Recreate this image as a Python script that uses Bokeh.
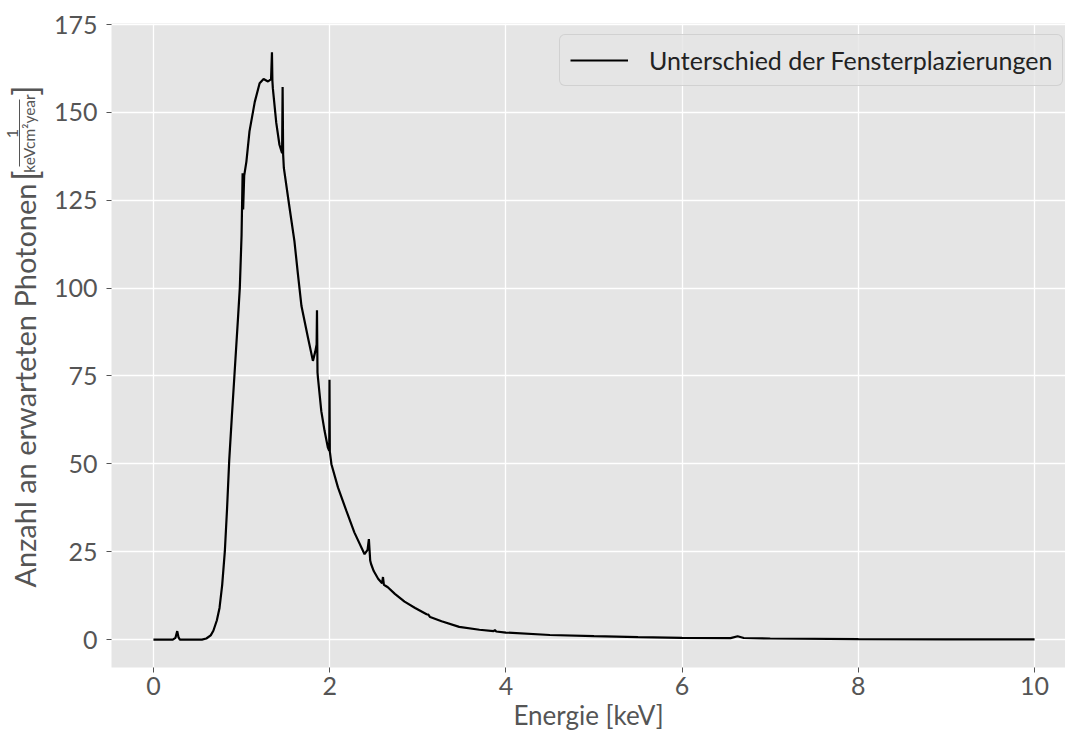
import math
from bokeh.plotting import figure
from bokeh.layouts import row
from bokeh.models import Range1d, Legend, LegendItem, ColumnDataSource
from bokeh.core.properties import value
from bokeh.embed import file_html
from bokeh.resources import INLINE

# ---------------- data ----------------
energy = [0.00, 0.22, 0.25, 0.27, 0.285, 0.30, 0.55, 0.60, 0.65, 0.68, 0.72, 0.75, 0.78, 0.81,
          0.835, 0.86, 0.89, 0.92, 0.96, 0.98, 1.00, 1.012, 1.018, 1.03, 1.055, 1.09, 1.15,
          1.205, 1.25, 1.30, 1.335, 1.345, 1.35, 1.355, 1.394, 1.43, 1.46, 1.466, 1.472, 1.48,
          1.545, 1.60, 1.64, 1.68, 1.754, 1.81, 1.837, 1.852, 1.856, 1.862, 1.867, 1.905,
          1.942, 1.98, 1.995, 1.998, 2.002, 2.02, 2.094, 2.19, 2.28, 2.396, 2.43, 2.445, 2.46,
          2.47, 2.50, 2.55, 2.595, 2.605, 2.615, 2.66, 2.74, 2.85, 2.97, 3.10, 3.12, 3.14,
          3.27, 3.47, 3.70, 3.86, 3.875, 3.89, 4.00, 4.50, 5.00, 5.50, 6.00, 6.55, 6.63,
          6.70, 7.00, 8.00, 9.00, 10.00]
photons = [0.0, 0.0, 0.5, 2.4, 0.6, 0.0, 0.0, 0.3, 1.2, 2.5, 5.5, 9.0, 15.5, 25.0,
           37.0, 51.0, 63.5, 75.5, 91.6, 100.0, 115.0, 132.7, 122.4, 132.0, 136.0, 144.6, 153.0,
           158.3, 159.5, 158.8, 159.5, 167.1, 159.0, 156.9, 147.0, 140.8, 138.4, 157.2, 138.0, 134.2,
           122.8, 113.4, 103.9, 94.9, 85.9, 79.3, 82.0, 84.0, 93.7, 76.0, 74.5, 65.0,
           59.4, 54.6, 53.7, 73.9, 53.5, 49.9, 43.3, 36.6, 30.5, 24.3, 25.5, 28.6, 22.5,
           21.5, 19.5, 17.3, 16.0, 17.8, 15.6, 14.9, 13.0, 10.8, 9.0, 7.2, 7.1, 6.4,
           5.2, 3.6, 2.8, 2.4, 2.7, 2.3, 2.0, 1.3, 0.95, 0.7, 0.5, 0.4, 0.95,
           0.45, 0.3, 0.15, 0.08, 0.05]

x_ticks = [0, 2, 4, 6, 8, 10]
y_ticks = [0, 25, 50, 75, 100, 125, 150, 175]
legend_text = "Unterschied der Fensterplazierungen"
x_label = "Energie [keV]"
y_label = "Anzahl an erwarteten Photonen"
unit_numerator = "1"
unit_denominator = "keVcm²year"

FONT = "Lato"
GRAY = "#555555"

# page geometry (pixels)
W, H = 1065, 738
STRIP = 50            # narrow panel that holds the rotated y label
FL, FT, FB = 110, 23, 667

# ---------------- main plot ----------------
p = figure(width=W - STRIP, height=H, output_backend="svg", toolbar_location=None,
           x_range=Range1d(-0.476, 10.351), y_range=Range1d(-7.95, 175.3),
           min_border_left=FL - STRIP, min_border_right=0, min_border_top=FT,
           min_border_bottom=H - FB)
p.background_fill_color = "#E5E5E5"
p.border_fill_color = "white"
p.outline_line_color = None

for ax in (p.xaxis[0], p.yaxis[0]):
    ax.axis_line_color = None
    ax.major_tick_line_color = GRAY
    ax.major_tick_out = 5
    ax.major_tick_in = 0
    ax.minor_tick_line_color = None
    ax.major_label_text_font = FONT
    ax.major_label_text_font_size = "25px"
    ax.major_label_text_color = GRAY
p.xaxis.ticker = x_ticks
p.yaxis.ticker = y_ticks
p.xaxis.major_label_standoff = 4
p.yaxis.major_label_standoff = 9
p.xaxis.axis_label = x_label
p.xaxis.axis_label_text_font = FONT
p.xaxis.axis_label_text_font_size = "26px"
p.xaxis.axis_label_text_font_style = "normal"
p.xaxis.axis_label_text_color = GRAY
p.xaxis.axis_label_standoff = 1

p.grid.grid_line_color = "white"
p.grid.grid_line_width = 1.3
p.xgrid.ticker = x_ticks
p.ygrid.ticker = y_ticks

src = ColumnDataSource(data=dict(e=energy, n=photons))
r = p.line("e", "n", source=src, line_color="black", line_width=2.2)

legend = Legend(items=[LegendItem(label=legend_text, renderers=[r])],
                location=(558 - FL, FB - 86), margin=0, padding=10,
                label_text_font=FONT, label_text_font_size="25px", label_text_color="#222222",
                glyph_width=58, glyph_height=28, label_height=28, label_standoff=21,
                background_fill_color="#E5E5E5", background_fill_alpha=0.8,
                border_line_color="#CCCCCC", border_line_alpha=0.8, border_line_width=1)
if "border_radius" in Legend.properties():
    legend.border_radius = 6
p.add_layout(legend)

# ---------------- strip holding the y label ----------------
# The row aligns this strip's frame with the main frame (rows FT..FB), so its
# y range is chosen such that a value equals (H - page pixel row).
s = figure(width=STRIP, height=H, output_backend="svg", toolbar_location=None,
           x_range=Range1d(0, STRIP), y_range=Range1d(H - FB, H - FT),
           x_axis_type=None, y_axis_type=None, title=None,
           min_border=0, min_border_left=0, min_border_right=0,
           min_border_top=0, min_border_bottom=0)
s.outline_line_color = None
s.background_fill_color = "white"
s.border_fill_color = "white"
s.grid.visible = False

ang = math.pi / 2
common = dict(angle=ang, text_color=GRAY, text_font=value(FONT),
              text_align="center", text_baseline="middle")
# main label text, reading bottom to top (centred)
s.text(x=[24], y=[H - 385], text=[y_label], text_font_size="29px", **common)
# brackets
s.text(x=[24, 24], y=[H - 175, H - 90], text=["[", "]"], text_font_size="34px", **common)
# fraction
s.text(x=[12], y=[H - 133], text=[unit_numerator], text_font_size="16px", **common)
s.segment(x0=[19], y0=[H - 166], x1=[19], y1=[H - 99], line_color=GRAY, line_width=1)
s.text(x=[28], y=[H - 133], text=[unit_denominator], text_font_size="15.5px", **common)

layout = row(s, p, spacing=0)
open("out.html", "w").write(file_html(layout, INLINE))
